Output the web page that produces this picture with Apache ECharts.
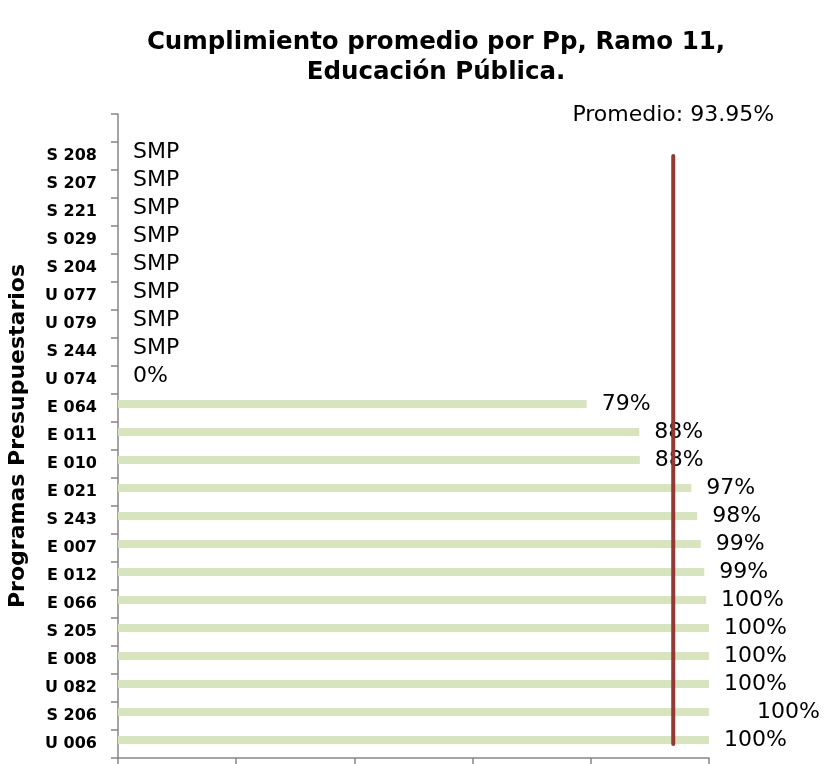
<!DOCTYPE html>
<html>
<head>
<meta charset="utf-8">
<script src="https://cdn.jsdelivr.net/npm/echarts@6/dist/echarts.min.js"></script>
<style>html,body{margin:0;padding:0;background:#fff;}#chart{width:828px;height:764px;}</style>
</head>
<body>
<div id="chart"></div>
<script>
// Categories from top to bottom (first entry is the empty top band)
const categories = ['', 'S 208', 'S 207', 'S 221', 'S 029', 'S 204', 'U 077', 'U 079', 'S 244', 'U 074',
  'E 064', 'E 011', 'E 010', 'E 021', 'S 243', 'E 007', 'E 012', 'E 066', 'S 205', 'E 008', 'U 082', 'S 206', 'U 006'];
// Compliance values (%); 0 used for SMP rows
const values = [null, 0, 0, 0, 0, 0, 0, 0, 0, 0,
  79.3, 88.2, 88.3, 97.0, 98.0, 98.6, 99.2, 99.5, 100, 100, 100, 100, 100];
// Label text shown next to each bar
const labels = ['', 'SMP', 'SMP', 'SMP', 'SMP', 'SMP', 'SMP', 'SMP', 'SMP', '0%',
  '79%', '88%', '88%', '97%', '98%', '99%', '99%', '100%', '100%', '100%', '100%', '100%', '100%'];
const average = 93.95;
const xTicks = [0, 20, 40, 60, 80, 100];

const chart = echarts.init(document.getElementById('chart'));

const barData = values.map((v, i) => {
  if (v === null) return '-';
  const item = { value: v };
  if (categories[i] === 'S 206') item.label = { offset: [33, 0] };
  return item;
});
const lineData = categories.map((c, i) => {
  if (c === '') return '-';
  if (i === 1) {
    return {
      value: average,
      label: { show: true, position: 'top', distance: 30, formatter: 'Promedio: ' + average.toFixed(2) + '%',
        fontFamily: 'DejaVu Sans', fontSize: 22, color: '#000' }
    };
  }
  return average;
});

chart.setOption({
  animation: false,
  title: {
    text: 'Cumplimiento promedio por Pp, Ramo 11,\nEducación Pública.',
    left: 431, top: 23, textAlign: 'center',
    textStyle: { fontFamily: 'DejaVu Sans', fontWeight: 'bold', fontSize: 24.5, lineHeight: 30, color: '#000' }
  },
  grid: { left: 118, right: 119, top: 114, bottom: 6, containLabel: false, outerBoundsMode: 'none' },
  xAxis: {
    type: 'value', min: xTicks[0], max: xTicks[xTicks.length - 1], interval: 20,
    axisLine: { show: true, lineStyle: { color: '#868686', width: 1.5 } },
    axisTick: { show: true, length: 6, lineStyle: { color: '#868686', width: 1.5 } },
    axisLabel: { show: false },
    splitLine: { show: false }
  },
  yAxis: {
    type: 'category', data: categories, inverse: true,
    name: 'Programas Presupuestarios', nameLocation: 'middle', nameRotate: 90, nameGap: 89,
    nameTextStyle: { fontFamily: 'DejaVu Sans', fontWeight: 'bold', fontSize: 22, color: '#000' },
    axisLine: { show: true, lineStyle: { color: '#868686', width: 1.5 } },
    axisTick: { show: true, length: 7, alignWithLabel: false, lineStyle: { color: '#868686', width: 1.5 } },
    axisLabel: { margin: 21, fontFamily: 'DejaVu Sans', fontWeight: 'bold', fontSize: 16, color: '#000' },
    splitLine: { show: false }
  },
  series: [
    {
      type: 'bar', data: barData, barWidth: 8, barGap: '0%',
      itemStyle: { color: '#d7e4bd' },
      label: {
        show: true, position: 'right', distance: 15,
        fontFamily: 'DejaVu Sans', fontSize: 22, color: '#000',
        formatter: p => labels[p.dataIndex]
      },
      z: 2
    },
    {
      type: 'bar', data: categories.map(() => '-'), barWidth: 8, barGap: '0%'
    },
    {
      type: 'line', data: lineData,
      symbol: 'circle', symbolSize: 0, showSymbol: true,
      lineStyle: { color: '#953735', width: 4, cap: 'round' },
      itemStyle: { color: '#953735' },
      z: 5
    }
  ]
});
</script>
</body>
</html>
